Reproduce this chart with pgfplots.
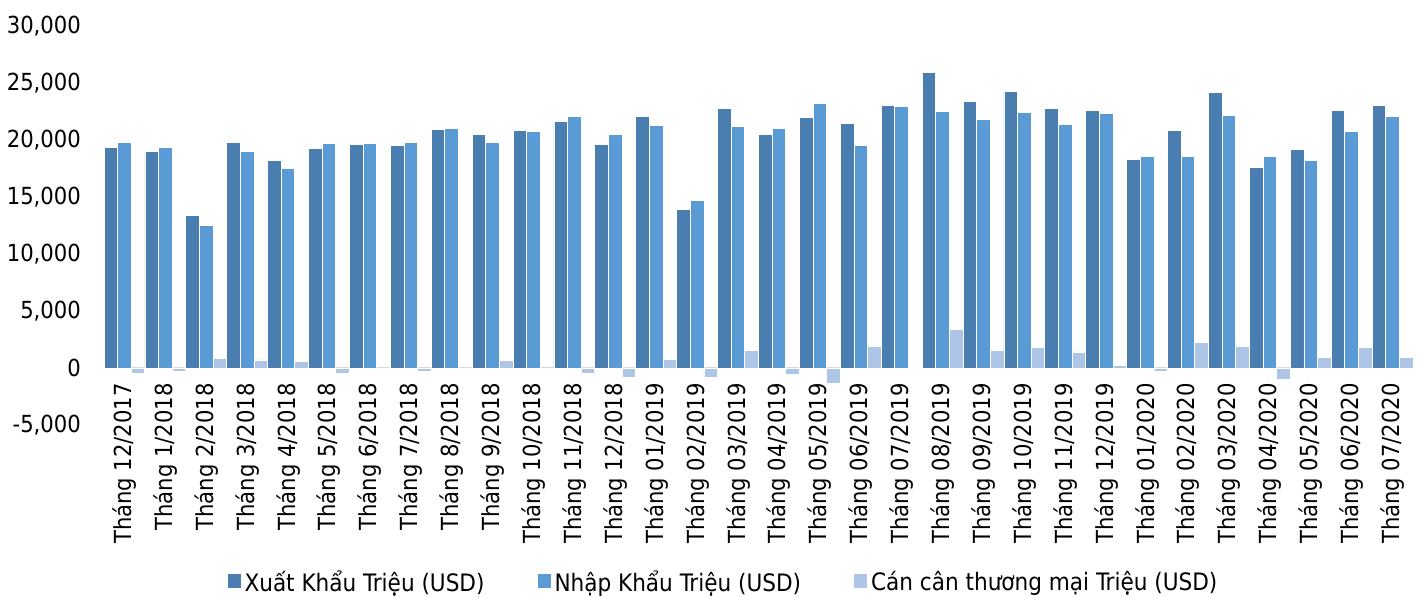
\documentclass[border=0pt]{standalone}
\usepackage{pgfplots}
\pgfplotsset{compat=1.18}
\usepackage{pgfplotstable}
\usepackage{fontspec}
\setmainfont{DejaVu Sans Condensed}

\definecolor{xk}{RGB}{74,126,177}
\definecolor{nk}{RGB}{91,155,213}
\definecolor{cc}{RGB}{173,197,230}
\newcommand{\tickfont}{\fontsize{23.5pt}{28pt}\selectfont}
\newcommand{\legfont}{\fontsize{24pt}{29pt}\selectfont}

% monthly trade figures, million USD
\pgfplotstableread{
x  exp    imp    bal
0  19320  19790  -470
1  19030  19320  -290
2  13360  12490  870
3  19790  19030  730
4  18210  17510  640
5  19230  19700  -470
6  19610  19700  -90
7  19530  19790  -260
8  20930  21010  -80
9  20520  19790  670
10 20810  20780  30
11 21630  22030  -420
12 19640  20460  -820
13 22090  21280  790
14 13920  14680  -780
15 22790  21160  1600
16 20460  21010  -550
17 21940  23230  -1300
18 21450  19490  1890
19 23030  22970  60
20 25950  22470  3420
21 23410  21770  1580
22 24280  22380  1810
23 22790  21370  1430
24 22590  22330  230
25 18330  18590  -290
26 20870  18590  2240
27 24190  22150  1960
28 17600  18530  -950
29 19180  18180  970
30 22590  20720  1810
31 23030  22030  970
}\trade

\begin{document}
\begin{tikzpicture}
\useasboundingbox (-104pt,-171.6pt) rectangle (1316pt,425.4pt);
\begin{axis}[
  scale only axis,
  width=1309pt, height=399.6pt,
  xmin=-0.5, xmax=31.5,
  ymin=-5000, ymax=30000,
  ybar=0pt, bar width=13.63pt,
  axis line style={draw=none},
  major tick length=0pt,
  xtick={0,...,31},
  xticklabels={Tháng 12/2017, Tháng 1/2018, Tháng 2/2018, Tháng 3/2018,
    Tháng 4/2018, Tháng 5/2018, Tháng 6/2018, Tháng 7/2018, Tháng 8/2018,
    Tháng 9/2018, Tháng 10/2018, Tháng 11/2018, Tháng 12/2018,
    Tháng 01/2019, Tháng 02/2019, Tháng 03/2019, Tháng 04/2019,
    Tháng 05/2019, Tháng 06/2019, Tháng 07/2019, Tháng 08/2019,
    Tháng 09/2019, Tháng 10/2019, Tháng 11/2019, Tháng 12/2019,
    Tháng 01/2020, Tháng 02/2020, Tháng 03/2020, Tháng 04/2020,
    Tháng 05/2020, Tháng 06/2020, Tháng 07/2020},
  xticklabel style={yshift=42.4pt, rotate=90, anchor=east, inner sep=0pt, font=\tickfont},
  ytick={-5000,0,5000,10000,15000,20000,25000,30000},
  yticklabel style={inner sep=0pt, xshift=-23pt, font=\tickfont},
  scaled y ticks=false,
  /pgf/number format/1000 sep={,},
  /pgf/number format/assume math mode=true,
  extra y ticks={0},
  extra y tick labels={},
  extra y tick style={grid=major, major grid style={draw=black!15, line width=2pt}},
  legend style={at={(0.4725,-0.3904)}, anchor=center, draw=none, fill=none,
    legend columns=3, font=\legfont,
    nodes={inner sep=0pt},
    /tikz/every odd column/.append style={column sep=4pt},
    /tikz/every even column/.append style={column sep=53pt}},
  legend cell align=left,
  legend image code/.code={\fill[#1,draw=none] (0pt,-7pt) rectangle (13pt,7pt);},
]
\addplot[fill=xk, draw=white, line width=0.8pt] table[x=x, y=exp] {\trade};
\addplot[fill=nk, draw=white, line width=0.8pt] table[x=x, y=imp] {\trade};
\addplot[fill=cc, draw=white, line width=0.8pt] table[x=x, y=bal] {\trade};
\legend{Xuất Khẩu Triệu (USD), Nhập Khẩu Triệu (USD), Cán cân thương mại Triệu (USD)}
\end{axis}
\end{tikzpicture}
\end{document}
